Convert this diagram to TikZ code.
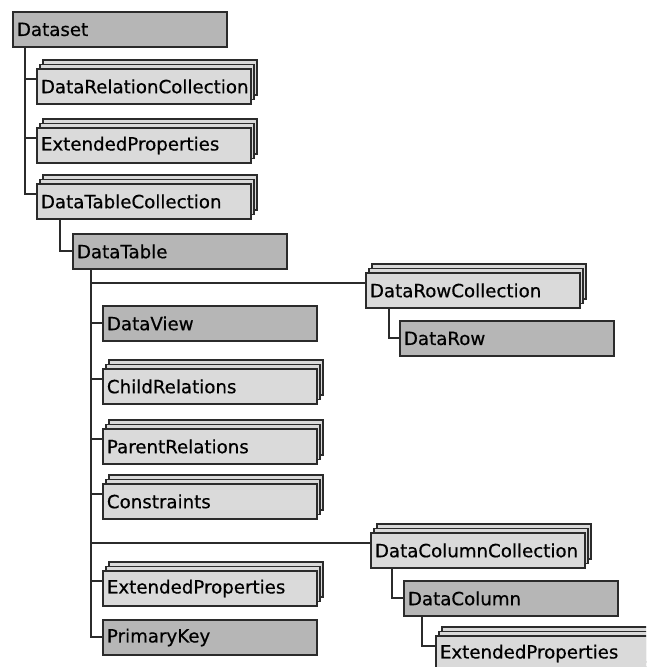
\documentclass[tikz,border=0pt]{standalone}
\usepackage{fontspec}
\setmainfont[FakeBold=0.5]{DejaVu Sans}
\usetikzlibrary{shadows}
\definecolor{edge}{HTML}{2B2B2B}
\definecolor{objfill}{HTML}{B6B6B6}
\definecolor{collfill}{HTML}{DADADA}
\newcommand\boxfont{\fontsize{18.2}{20}\selectfont\hyphenpenalty=10000\relax}
\begin{document}
\begin{tikzpicture}[x=1pt,y=-1pt,
  box/.style={draw=edge, line width=1.9pt, anchor=north west,
    minimum height=35pt, text width=206pt, inner xsep=4pt, inner ysep=0pt,
    align=left, font=\boxfont},
  objbox/.style={box, fill=objfill},
  collbox/.style={box, fill=collfill,
    copy shadow={shadow xshift=6pt, shadow yshift=9pt, fill=collfill, draw=edge, line width=1.9pt},
    copy shadow={shadow xshift=3pt, shadow yshift=4.5pt, fill=collfill, draw=edge, line width=1.9pt}},
  wire/.style={draw=edge, line width=2pt}]
\useasboundingbox[fill=white] (0,0) rectangle (646,667);
\clip (0,0) rectangle (646,667);

% DataSet and its members
\node[objbox]  (dataset) at (12,11)  {Dataset};
\node[collbox] (drc)     at (36,68)  {DataRelationCollection};
\node[collbox] (dsprops) at (36,127) {ExtendedProperties};
\node[collbox] (dtc)     at (36,183) {DataTableCollection};

% DataTable and its members
\node[objbox]  (dt)      at (72,233)  {DataTable};
\node[collbox] (drowc)   at (365,272) {DataRowCollection};
\node[objbox]  (drow)    at (399,320) {DataRow};
\node[objbox]  (dview)   at (102,305) {DataView};
\node[collbox] (child)   at (102,368) {ChildRelations};
\node[collbox] (parent)  at (102,428) {ParentRelations};
\node[collbox] (cons)    at (102,483) {Constraints};
\node[collbox] (dcolc)   at (370,532) {DataColumnCollection};
\node[objbox]  (dcol)    at (403,580) {DataColumn};
\node[collbox] (dtprops) at (102,570) {ExtendedProperties};
\node[objbox]  (pkey)    at (102,619) {PrimaryKey};
\node[collbox] (dcprops) at (435,635) {ExtendedProperties};

% tree connectors
\foreach \n in {drc,dsprops,dtc}
  \draw[wire] ([xshift=13pt]dataset.south west) |- ([yshift=7pt]\n.west);
\draw[wire] ([xshift=24pt]dtc.south west) |- (dt.west);
\foreach \n in {drowc,child,parent,cons,dcolc,dtprops}
  \draw[wire] ([xshift=19pt]dt.south west) |- ([yshift=7pt]\n.west);
\foreach \n in {dview,pkey}
  \draw[wire] ([xshift=19pt]dt.south west) |- (\n.west);
\draw[wire] ([xshift=24pt]drowc.south west) |- (drow.west);
\draw[wire] ([xshift=22pt]dcolc.south west) |- (dcol.west);
\draw[wire] ([xshift=19pt]dcol.south west) |- ([yshift=7pt]dcprops.west);
\end{tikzpicture}
\end{document}
